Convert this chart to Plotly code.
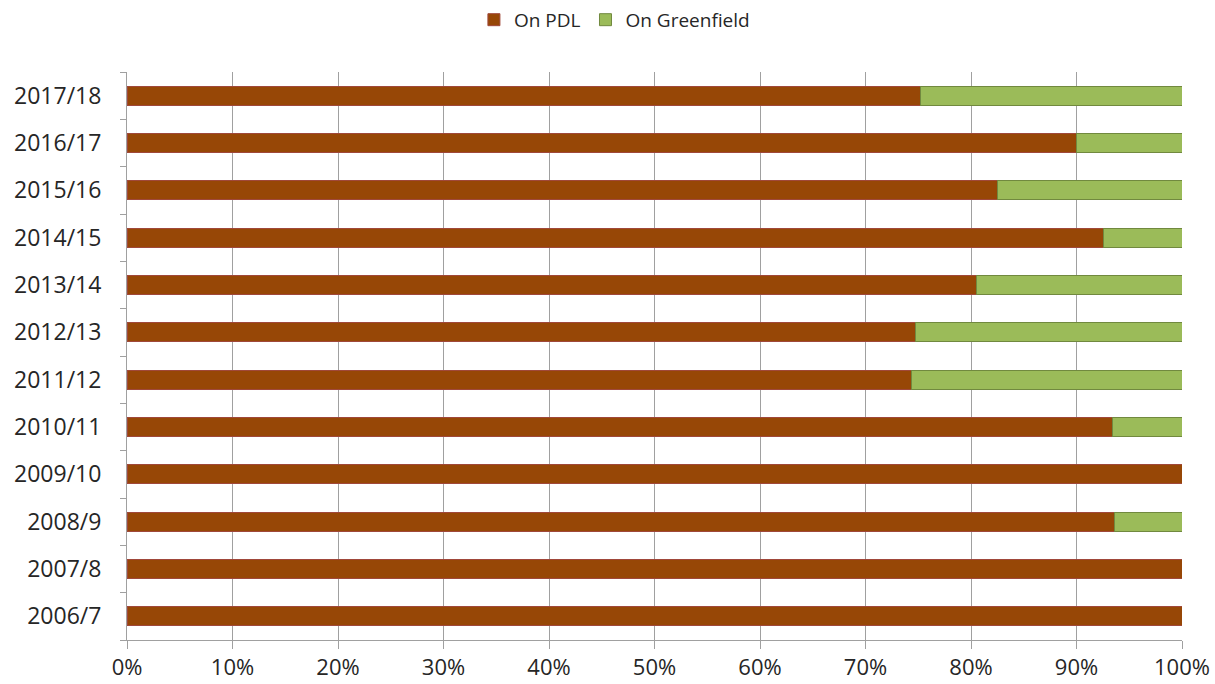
import plotly.graph_objects as go

years = ["2006/7", "2007/8", "2008/9", "2009/10", "2010/11", "2011/12",
         "2012/13", "2013/14", "2014/15", "2015/16", "2016/17", "2017/18"]
pdl = [1.0, 1.0, 0.936, 1.0, 0.934, 0.744, 0.747, 0.805, 0.926, 0.825, 0.900, 0.752]
greenfield = [round(1 - v, 3) for v in pdl]

font = "Open Sans, Lato, sans-serif"

fig = go.Figure()
fig.add_trace(go.Bar(y=years, x=pdl, orientation="h", name="On PDL",
                     marker=dict(color="#974706", line=dict(color="#A0483A", width=1)),
                     width=0.4))
fig.add_trace(go.Bar(y=years, x=greenfield, orientation="h", name="On Greenfield",
                     marker=dict(color="#9BBB59", line=dict(color="#71893F", width=1)),
                     width=0.4))

fig.update_layout(
    barmode="stack",
    width=1215, height=684,
    margin=dict(l=127, r=33, t=72, b=44),
    paper_bgcolor="white", plot_bgcolor="white",
    font=dict(family=font, size=23, color="#262626"),
    legend=dict(orientation="h", x=0.462, xanchor="center", y=0.971, yref="container",
                yanchor="middle", font=dict(size=19, color="#262626"),
                traceorder="normal", itemwidth=30),
    showlegend=True,
    xaxis=dict(range=[0, 1], tickformat=".0%", dtick=0.1, showgrid=True,
               gridcolor="#A0A0A0", gridwidth=1, ticks="outside", ticklen=8,
               tickcolor="#A0A0A0", showline=True, linecolor="#A0A0A0",
               zeroline=False, tickfont=dict(size=22), automargin=False),
    yaxis=dict(categoryorder="array", categoryarray=years, showline=True,
               linecolor="#A0A0A0", ticks="outside", ticklen=6, tickcolor="#A0A0A0",
               tickson="boundaries", showgrid=False, tickfont=dict(size=23),
               ticklabelstandoff=20, automargin=False),
)

fig.write_html("out.html")
